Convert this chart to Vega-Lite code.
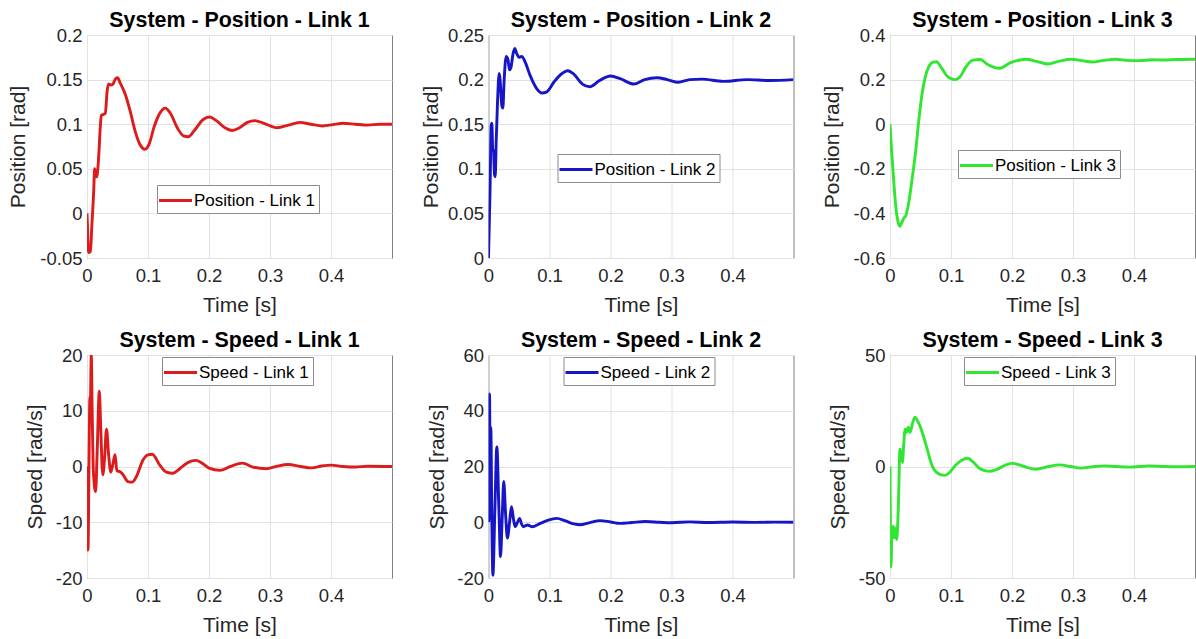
{
  "$schema": "https://vega.github.io/schema/vega-lite/v6.json",
  "background": "white",
  "padding": {"left": 7, "top": 9, "right": 0, "bottom": 0},
  "columns": 3,
  "spacing": {"column": 96.5, "row": 97},
  "bounds": "flush",
  "resolve": {"scale": {"x": "independent", "y": "independent", "color": "independent"}, "legend": {"color": "independent"}, "axis": {"x": "independent", "y": "independent"}},
  "config": {
    "view": {"stroke": "#808080", "strokeWidth": 1},
    "axis": {"labelFont": "Liberation Sans", "labelFontSize": 18.5, "labelColor": "#262626", "titleFont": "Liberation Sans", "titleFontSize": 21, "titleFontWeight": "normal", "titleColor": "#262626", "gridColor": "#e2e2e2", "gridOpacity": 1, "domain": false, "ticks": false, "labelOverlap": false, "labelFlush": false},
    "axisX": {"labelPadding": 8, "titlePadding": 10},
    "axisY": {"labelPadding": 5},
    "title": {"font": "Liberation Sans", "fontSize": 21.4, "fontWeight": "bold", "color": "#000000", "offset": -5, "baseline": "bottom", "anchor": "middle", "frame": "group"},
    "legend": {"orient": "none", "title": null, "symbolType": "M-1.65,0H1.65", "symbolSize": 400, "symbolStrokeWidth": 3, "symbolOffset": 3, "labelOffset": 7, "labelFont": "Liberation Sans", "labelFontSize": 17, "labelColor": "#000000", "fillColor": "#ffffff", "strokeColor": "#8c8c8c", "padding": 4, "cornerRadius": 0}
  },
  "datasets": {
    "p1": [
      {"t":0,"v":0,"s":"Position - Link 1"},{"t":0.0008,"v":-0.015,"s":"Position - Link 1"},{"t":0.0025,"v":-0.044,"s":"Position - Link 1"},{"t":0.0055,"v":-0.043,"s":"Position - Link 1"},{"t":0.008,"v":-0.013,"s":"Position - Link 1"},{"t":0.011,"v":0.025,"s":"Position - Link 1"},{"t":0.0125,"v":0.05,"s":"Position - Link 1"},{"t":0.014,"v":0.043,"s":"Position - Link 1"},{"t":0.016,"v":0.041,"s":"Position - Link 1"},{"t":0.019,"v":0.062,"s":"Position - Link 1"},{"t":0.022,"v":0.099,"s":"Position - Link 1"},{"t":0.0235,"v":0.11,"s":"Position - Link 1"},{"t":0.027,"v":0.111,"s":"Position - Link 1"},{"t":0.03,"v":0.112,"s":"Position - Link 1"},{"t":0.033,"v":0.137,"s":"Position - Link 1"},{"t":0.0355,"v":0.145,"s":"Position - Link 1"},{"t":0.039,"v":0.144,"s":"Position - Link 1"},{"t":0.0425,"v":0.145,"s":"Position - Link 1"},{"t":0.046,"v":0.15,"s":"Position - Link 1"},{"t":0.05,"v":0.152,"s":"Position - Link 1"},{"t":0.0545,"v":0.146,"s":"Position - Link 1"},{"t":0.063,"v":0.133,"s":"Position - Link 1"},{"t":0.071,"v":0.114,"s":"Position - Link 1"},{"t":0.079,"v":0.092,"s":"Position - Link 1"},{"t":0.087,"v":0.077,"s":"Position - Link 1"},{"t":0.095,"v":0.072,"s":"Position - Link 1"},{"t":0.102,"v":0.078,"s":"Position - Link 1"},{"t":0.11,"v":0.097,"s":"Position - Link 1"},{"t":0.12,"v":0.113,"s":"Position - Link 1"},{"t":0.128,"v":0.118,"s":"Position - Link 1"},{"t":0.137,"v":0.112,"s":"Position - Link 1"},{"t":0.148,"v":0.096,"s":"Position - Link 1"},{"t":0.158,"v":0.087,"s":"Position - Link 1"},{"t":0.166,"v":0.086,"s":"Position - Link 1"},{"t":0.176,"v":0.093,"s":"Position - Link 1"},{"t":0.19,"v":0.105,"s":"Position - Link 1"},{"t":0.201,"v":0.108,"s":"Position - Link 1"},{"t":0.212,"v":0.104,"s":"Position - Link 1"},{"t":0.226,"v":0.096,"s":"Position - Link 1"},{"t":0.238,"v":0.093,"s":"Position - Link 1"},{"t":0.25,"v":0.096,"s":"Position - Link 1"},{"t":0.263,"v":0.102,"s":"Position - Link 1"},{"t":0.275,"v":0.104,"s":"Position - Link 1"},{"t":0.29,"v":0.101,"s":"Position - Link 1"},{"t":0.312,"v":0.096,"s":"Position - Link 1"},{"t":0.33,"v":0.099,"s":"Position - Link 1"},{"t":0.349,"v":0.102,"s":"Position - Link 1"},{"t":0.367,"v":0.1,"s":"Position - Link 1"},{"t":0.386,"v":0.098,"s":"Position - Link 1"},{"t":0.403,"v":0.0995,"s":"Position - Link 1"},{"t":0.42,"v":0.101,"s":"Position - Link 1"},{"t":0.44,"v":0.1,"s":"Position - Link 1"},{"t":0.46,"v":0.099,"s":"Position - Link 1"},{"t":0.48,"v":0.1,"s":"Position - Link 1"},{"t":0.5,"v":0.1,"s":"Position - Link 1"}
    ],
    "p2": [
      {"t":0,"v":0,"s":"Position - Link 2"},{"t":0.001,"v":0.03,"s":"Position - Link 2"},{"t":0.0027,"v":0.082,"s":"Position - Link 2"},{"t":0.0044,"v":0.149,"s":"Position - Link 2"},{"t":0.0055,"v":0.151,"s":"Position - Link 2"},{"t":0.007,"v":0.12,"s":"Position - Link 2"},{"t":0.008,"v":0.121,"s":"Position - Link 2"},{"t":0.01,"v":0.093,"s":"Position - Link 2"},{"t":0.011,"v":0.091,"s":"Position - Link 2"},{"t":0.0126,"v":0.131,"s":"Position - Link 2"},{"t":0.0148,"v":0.175,"s":"Position - Link 2"},{"t":0.0175,"v":0.207,"s":"Position - Link 2"},{"t":0.019,"v":0.2,"s":"Position - Link 2"},{"t":0.022,"v":0.17,"s":"Position - Link 2"},{"t":0.0235,"v":0.168,"s":"Position - Link 2"},{"t":0.0257,"v":0.2,"s":"Position - Link 2"},{"t":0.029,"v":0.226,"s":"Position - Link 2"},{"t":0.032,"v":0.222,"s":"Position - Link 2"},{"t":0.0344,"v":0.211,"s":"Position - Link 2"},{"t":0.0366,"v":0.213,"s":"Position - Link 2"},{"t":0.04,"v":0.228,"s":"Position - Link 2"},{"t":0.043,"v":0.235,"s":"Position - Link 2"},{"t":0.0464,"v":0.229,"s":"Position - Link 2"},{"t":0.05,"v":0.225,"s":"Position - Link 2"},{"t":0.0546,"v":0.226,"s":"Position - Link 2"},{"t":0.06,"v":0.22,"s":"Position - Link 2"},{"t":0.068,"v":0.205,"s":"Position - Link 2"},{"t":0.079,"v":0.19,"s":"Position - Link 2"},{"t":0.088,"v":0.185,"s":"Position - Link 2"},{"t":0.095,"v":0.186,"s":"Position - Link 2"},{"t":0.107,"v":0.197,"s":"Position - Link 2"},{"t":0.119,"v":0.206,"s":"Position - Link 2"},{"t":0.13,"v":0.21,"s":"Position - Link 2"},{"t":0.14,"v":0.206,"s":"Position - Link 2"},{"t":0.154,"v":0.195,"s":"Position - Link 2"},{"t":0.166,"v":0.192,"s":"Position - Link 2"},{"t":0.182,"v":0.199,"s":"Position - Link 2"},{"t":0.2,"v":0.204,"s":"Position - Link 2"},{"t":0.216,"v":0.201,"s":"Position - Link 2"},{"t":0.238,"v":0.195,"s":"Position - Link 2"},{"t":0.256,"v":0.2,"s":"Position - Link 2"},{"t":0.276,"v":0.202,"s":"Position - Link 2"},{"t":0.293,"v":0.2,"s":"Position - Link 2"},{"t":0.311,"v":0.197,"s":"Position - Link 2"},{"t":0.33,"v":0.2,"s":"Position - Link 2"},{"t":0.35,"v":0.2005,"s":"Position - Link 2"},{"t":0.385,"v":0.198,"s":"Position - Link 2"},{"t":0.424,"v":0.2,"s":"Position - Link 2"},{"t":0.46,"v":0.199,"s":"Position - Link 2"},{"t":0.5,"v":0.2,"s":"Position - Link 2"}
    ],
    "p3": [
      {"t":0,"v":0,"s":"Position - Link 3"},{"t":0.002,"v":-0.093,"s":"Position - Link 3"},{"t":0.0054,"v":-0.227,"s":"Position - Link 3"},{"t":0.0092,"v":-0.361,"s":"Position - Link 3"},{"t":0.013,"v":-0.436,"s":"Position - Link 3"},{"t":0.0163,"v":-0.458,"s":"Position - Link 3"},{"t":0.019,"v":-0.443,"s":"Position - Link 3"},{"t":0.0228,"v":-0.421,"s":"Position - Link 3"},{"t":0.026,"v":-0.409,"s":"Position - Link 3"},{"t":0.031,"v":-0.347,"s":"Position - Link 3"},{"t":0.0364,"v":-0.242,"s":"Position - Link 3"},{"t":0.042,"v":-0.123,"s":"Position - Link 3"},{"t":0.047,"v":0.012,"s":"Position - Link 3"},{"t":0.0527,"v":0.139,"s":"Position - Link 3"},{"t":0.058,"v":0.213,"s":"Position - Link 3"},{"t":0.0636,"v":0.258,"s":"Position - Link 3"},{"t":0.0707,"v":0.278,"s":"Position - Link 3"},{"t":0.076,"v":0.28,"s":"Position - Link 3"},{"t":0.085,"v":0.25,"s":"Position - Link 3"},{"t":0.094,"v":0.215,"s":"Position - Link 3"},{"t":0.106,"v":0.2,"s":"Position - Link 3"},{"t":0.114,"v":0.21,"s":"Position - Link 3"},{"t":0.124,"v":0.255,"s":"Position - Link 3"},{"t":0.135,"v":0.286,"s":"Position - Link 3"},{"t":0.148,"v":0.29,"s":"Position - Link 3"},{"t":0.16,"v":0.268,"s":"Position - Link 3"},{"t":0.18,"v":0.251,"s":"Position - Link 3"},{"t":0.197,"v":0.275,"s":"Position - Link 3"},{"t":0.213,"v":0.288,"s":"Position - Link 3"},{"t":0.223,"v":0.291,"s":"Position - Link 3"},{"t":0.24,"v":0.282,"s":"Position - Link 3"},{"t":0.258,"v":0.27,"s":"Position - Link 3"},{"t":0.278,"v":0.283,"s":"Position - Link 3"},{"t":0.297,"v":0.291,"s":"Position - Link 3"},{"t":0.315,"v":0.285,"s":"Position - Link 3"},{"t":0.332,"v":0.279,"s":"Position - Link 3"},{"t":0.35,"v":0.286,"s":"Position - Link 3"},{"t":0.37,"v":0.291,"s":"Position - Link 3"},{"t":0.39,"v":0.286,"s":"Position - Link 3"},{"t":0.409,"v":0.285,"s":"Position - Link 3"},{"t":0.43,"v":0.289,"s":"Position - Link 3"},{"t":0.447,"v":0.288,"s":"Position - Link 3"},{"t":0.47,"v":0.29,"s":"Position - Link 3"},{"t":0.5,"v":0.291,"s":"Position - Link 3"}
    ],
    "p4": [
      {"t":0,"v":0,"s":"Speed - Link 1"},{"t":0.0004,"v":-6.3,"s":"Speed - Link 1"},{"t":0.0016,"v":-15,"s":"Speed - Link 1"},{"t":0.003,"v":-3,"s":"Speed - Link 1"},{"t":0.0042,"v":10,"s":"Speed - Link 1"},{"t":0.0048,"v":12.5,"s":"Speed - Link 1"},{"t":0.0055,"v":11,"s":"Speed - Link 1"},{"t":0.007,"v":20,"s":"Speed - Link 1"},{"t":0.0085,"v":10,"s":"Speed - Link 1"},{"t":0.0105,"v":-1,"s":"Speed - Link 1"},{"t":0.0142,"v":-4.5,"s":"Speed - Link 1"},{"t":0.0165,"v":2,"s":"Speed - Link 1"},{"t":0.0202,"v":13.5,"s":"Speed - Link 1"},{"t":0.0225,"v":7,"s":"Speed - Link 1"},{"t":0.0258,"v":-1.5,"s":"Speed - Link 1"},{"t":0.0285,"v":1,"s":"Speed - Link 1"},{"t":0.032,"v":6.7,"s":"Speed - Link 1"},{"t":0.0355,"v":2,"s":"Speed - Link 1"},{"t":0.039,"v":-1,"s":"Speed - Link 1"},{"t":0.042,"v":0.2,"s":"Speed - Link 1"},{"t":0.046,"v":2.1,"s":"Speed - Link 1"},{"t":0.049,"v":-0.8,"s":"Speed - Link 1"},{"t":0.054,"v":-0.9,"s":"Speed - Link 1"},{"t":0.058,"v":-1.3,"s":"Speed - Link 1"},{"t":0.067,"v":-2.7,"s":"Speed - Link 1"},{"t":0.074,"v":-2.8,"s":"Speed - Link 1"},{"t":0.081,"v":-1.8,"s":"Speed - Link 1"},{"t":0.092,"v":1.2,"s":"Speed - Link 1"},{"t":0.1,"v":2.1,"s":"Speed - Link 1"},{"t":0.107,"v":2.2,"s":"Speed - Link 1"},{"t":0.119,"v":0.3,"s":"Speed - Link 1"},{"t":0.13,"v":-1,"s":"Speed - Link 1"},{"t":0.141,"v":-1.2,"s":"Speed - Link 1"},{"t":0.152,"v":-0.4,"s":"Speed - Link 1"},{"t":0.165,"v":0.7,"s":"Speed - Link 1"},{"t":0.179,"v":1.1,"s":"Speed - Link 1"},{"t":0.19,"v":0.5,"s":"Speed - Link 1"},{"t":0.2,"v":-0.3,"s":"Speed - Link 1"},{"t":0.218,"v":-0.7,"s":"Speed - Link 1"},{"t":0.235,"v":0,"s":"Speed - Link 1"},{"t":0.255,"v":0.6,"s":"Speed - Link 1"},{"t":0.272,"v":-0.1,"s":"Speed - Link 1"},{"t":0.294,"v":-0.4,"s":"Speed - Link 1"},{"t":0.31,"v":0,"s":"Speed - Link 1"},{"t":0.33,"v":0.35,"s":"Speed - Link 1"},{"t":0.35,"v":0,"s":"Speed - Link 1"},{"t":0.368,"v":-0.25,"s":"Speed - Link 1"},{"t":0.385,"v":0.1,"s":"Speed - Link 1"},{"t":0.4,"v":0.25,"s":"Speed - Link 1"},{"t":0.42,"v":0,"s":"Speed - Link 1"},{"t":0.44,"v":-0.1,"s":"Speed - Link 1"},{"t":0.46,"v":0.05,"s":"Speed - Link 1"},{"t":0.5,"v":0,"s":"Speed - Link 1"}
    ],
    "p5": [
      {"t":0,"v":0,"s":"Speed - Link 2"},{"t":0.0004,"v":7,"s":"Speed - Link 2"},{"t":0.0008,"v":0.5,"s":"Speed - Link 2"},{"t":0.0017,"v":46,"s":"Speed - Link 2"},{"t":0.0027,"v":15,"s":"Speed - Link 2"},{"t":0.0038,"v":34,"s":"Speed - Link 2"},{"t":0.0055,"v":0,"s":"Speed - Link 2"},{"t":0.0072,"v":-19,"s":"Speed - Link 2"},{"t":0.0105,"v":5,"s":"Speed - Link 2"},{"t":0.0137,"v":27,"s":"Speed - Link 2"},{"t":0.017,"v":5,"s":"Speed - Link 2"},{"t":0.0197,"v":-12.3,"s":"Speed - Link 2"},{"t":0.0225,"v":2,"s":"Speed - Link 2"},{"t":0.025,"v":14.6,"s":"Speed - Link 2"},{"t":0.028,"v":3,"s":"Speed - Link 2"},{"t":0.031,"v":-5.7,"s":"Speed - Link 2"},{"t":0.0345,"v":0,"s":"Speed - Link 2"},{"t":0.0377,"v":5.6,"s":"Speed - Link 2"},{"t":0.041,"v":1,"s":"Speed - Link 2"},{"t":0.0437,"v":-1.6,"s":"Speed - Link 2"},{"t":0.0475,"v":0,"s":"Speed - Link 2"},{"t":0.051,"v":1.4,"s":"Speed - Link 2"},{"t":0.054,"v":-0.5,"s":"Speed - Link 2"},{"t":0.057,"v":-1.6,"s":"Speed - Link 2"},{"t":0.064,"v":-1,"s":"Speed - Link 2"},{"t":0.071,"v":-1.6,"s":"Speed - Link 2"},{"t":0.085,"v":-0.4,"s":"Speed - Link 2"},{"t":0.098,"v":0.8,"s":"Speed - Link 2"},{"t":0.112,"v":1.4,"s":"Speed - Link 2"},{"t":0.125,"v":0.6,"s":"Speed - Link 2"},{"t":0.14,"v":-0.6,"s":"Speed - Link 2"},{"t":0.15,"v":-0.9,"s":"Speed - Link 2"},{"t":0.165,"v":-0.2,"s":"Speed - Link 2"},{"t":0.183,"v":0.6,"s":"Speed - Link 2"},{"t":0.2,"v":0.1,"s":"Speed - Link 2"},{"t":0.216,"v":-0.4,"s":"Speed - Link 2"},{"t":0.235,"v":-0.1,"s":"Speed - Link 2"},{"t":0.257,"v":0.25,"s":"Speed - Link 2"},{"t":0.28,"v":0,"s":"Speed - Link 2"},{"t":0.3,"v":-0.2,"s":"Speed - Link 2"},{"t":0.33,"v":0.15,"s":"Speed - Link 2"},{"t":0.36,"v":-0.1,"s":"Speed - Link 2"},{"t":0.4,"v":0.1,"s":"Speed - Link 2"},{"t":0.44,"v":-0.05,"s":"Speed - Link 2"},{"t":0.47,"v":0.05,"s":"Speed - Link 2"},{"t":0.5,"v":0,"s":"Speed - Link 2"}
    ],
    "p6": [
      {"t":0,"v":0,"s":"Speed - Link 3"},{"t":0.0005,"v":-20.8,"s":"Speed - Link 3"},{"t":0.001,"v":-35,"s":"Speed - Link 3"},{"t":0.0016,"v":-45,"s":"Speed - Link 3"},{"t":0.0033,"v":-29.8,"s":"Speed - Link 3"},{"t":0.0055,"v":-26.8,"s":"Speed - Link 3"},{"t":0.0071,"v":-32,"s":"Speed - Link 3"},{"t":0.0087,"v":-27.5,"s":"Speed - Link 3"},{"t":0.011,"v":-32.8,"s":"Speed - Link 3"},{"t":0.0137,"v":-17.7,"s":"Speed - Link 3"},{"t":0.0164,"v":7.8,"s":"Speed - Link 3"},{"t":0.0186,"v":4.8,"s":"Speed - Link 3"},{"t":0.0208,"v":1.8,"s":"Speed - Link 3"},{"t":0.022,"v":7.8,"s":"Speed - Link 3"},{"t":0.025,"v":16.8,"s":"Speed - Link 3"},{"t":0.0273,"v":15.3,"s":"Speed - Link 3"},{"t":0.03,"v":17.6,"s":"Speed - Link 3"},{"t":0.0328,"v":15.3,"s":"Speed - Link 3"},{"t":0.0366,"v":19.1,"s":"Speed - Link 3"},{"t":0.041,"v":22.1,"s":"Speed - Link 3"},{"t":0.0448,"v":20.6,"s":"Speed - Link 3"},{"t":0.049,"v":18.3,"s":"Speed - Link 3"},{"t":0.0546,"v":13.8,"s":"Speed - Link 3"},{"t":0.061,"v":7.8,"s":"Speed - Link 3"},{"t":0.068,"v":1.1,"s":"Speed - Link 3"},{"t":0.0765,"v":-2.7,"s":"Speed - Link 3"},{"t":0.089,"v":-4,"s":"Speed - Link 3"},{"t":0.0956,"v":-3.2,"s":"Speed - Link 3"},{"t":0.1066,"v":0.3,"s":"Speed - Link 3"},{"t":0.1175,"v":2.8,"s":"Speed - Link 3"},{"t":0.127,"v":3.7,"s":"Speed - Link 3"},{"t":0.137,"v":1.8,"s":"Speed - Link 3"},{"t":0.1475,"v":-1,"s":"Speed - Link 3"},{"t":0.163,"v":-2.2,"s":"Speed - Link 3"},{"t":0.175,"v":-1.3,"s":"Speed - Link 3"},{"t":0.191,"v":0.8,"s":"Speed - Link 3"},{"t":0.201,"v":1.4,"s":"Speed - Link 3"},{"t":0.22,"v":0,"s":"Speed - Link 3"},{"t":0.239,"v":-1.2,"s":"Speed - Link 3"},{"t":0.258,"v":-0.1,"s":"Speed - Link 3"},{"t":0.278,"v":0.75,"s":"Speed - Link 3"},{"t":0.296,"v":0,"s":"Speed - Link 3"},{"t":0.313,"v":-0.75,"s":"Speed - Link 3"},{"t":0.332,"v":-0.1,"s":"Speed - Link 3"},{"t":0.351,"v":0.3,"s":"Speed - Link 3"},{"t":0.37,"v":0,"s":"Speed - Link 3"},{"t":0.392,"v":-0.3,"s":"Speed - Link 3"},{"t":0.41,"v":0,"s":"Speed - Link 3"},{"t":0.425,"v":0.3,"s":"Speed - Link 3"},{"t":0.45,"v":0,"s":"Speed - Link 3"},{"t":0.47,"v":-0.1,"s":"Speed - Link 3"},{"t":0.5,"v":0,"s":"Speed - Link 3"}
    ]
  },
  "concat": [
    {
      "width": 305, "height": 223,
      "data": {"name": "p1"},
      "title": "System - Position - Link 1",
      "mark": {"type": "line", "strokeWidth": 2.9, "interpolate": "monotone", "clip": true},
      "encoding": {
        "x": {"field": "t", "type": "quantitative", "scale": {"domain": [0, 0.5], "nice": false, "zero": false}, "axis": {"title": "Time [s]", "values": [0, 0.1, 0.2, 0.3, 0.4], "labelExpr": "toString(datum.value)"}},
        "y": {"field": "v", "type": "quantitative", "scale": {"domain": [-0.05, 0.2], "nice": false, "zero": false}, "axis": {"title": "Position [rad]", "values": [-0.05, 0, 0.05, 0.1, 0.15, 0.2], "labelExpr": "toString(datum.value)", "titlePadding": 11}},
        "color": {"field": "s", "type": "nominal", "scale": {"range": ["#dc1c1c"]}, "legend": {"legendX": 70, "legendY": 150}}
      }
    },
    {
      "width": 305, "height": 223,
      "data": {"name": "p2"},
      "title": "System - Position - Link 2",
      "mark": {"type": "line", "strokeWidth": 2.9, "interpolate": "monotone", "clip": true},
      "encoding": {
        "x": {"field": "t", "type": "quantitative", "scale": {"domain": [0, 0.5], "nice": false, "zero": false}, "axis": {"title": "Time [s]", "values": [0, 0.1, 0.2, 0.3, 0.4], "labelExpr": "toString(datum.value)"}},
        "y": {"field": "v", "type": "quantitative", "scale": {"domain": [0, 0.25], "nice": false, "zero": false}, "axis": {"title": "Position [rad]", "values": [0, 0.05, 0.1, 0.15, 0.2, 0.25], "labelExpr": "toString(datum.value)", "titlePadding": 6}},
        "color": {"field": "s", "type": "nominal", "scale": {"range": ["#1616c8"]}, "legend": {"legendX": 69, "legendY": 119}}
      }
    },
    {
      "width": 305, "height": 223,
      "data": {"name": "p3"},
      "title": "System - Position - Link 3",
      "mark": {"type": "line", "strokeWidth": 2.9, "interpolate": "monotone", "clip": true},
      "encoding": {
        "x": {"field": "t", "type": "quantitative", "scale": {"domain": [0, 0.5], "nice": false, "zero": false}, "axis": {"title": "Time [s]", "values": [0, 0.1, 0.2, 0.3, 0.4], "labelExpr": "toString(datum.value)"}},
        "y": {"field": "v", "type": "quantitative", "scale": {"domain": [-0.6, 0.4], "nice": false, "zero": false}, "axis": {"title": "Position [rad]", "values": [-0.6, -0.4, -0.2, 0, 0.2, 0.4], "labelExpr": "toString(datum.value)", "titlePadding": 11}},
        "color": {"field": "s", "type": "nominal", "scale": {"range": ["#30e630"]}, "legend": {"legendX": 68, "legendY": 115}}
      }
    },
    {
      "width": 305, "height": 223,
      "data": {"name": "p4"},
      "title": "System - Speed - Link 1",
      "mark": {"type": "line", "strokeWidth": 2.9, "interpolate": "monotone", "clip": true},
      "encoding": {
        "x": {"field": "t", "type": "quantitative", "scale": {"domain": [0, 0.5], "nice": false, "zero": false}, "axis": {"title": "Time [s]", "values": [0, 0.1, 0.2, 0.3, 0.4], "labelExpr": "toString(datum.value)"}},
        "y": {"field": "v", "type": "quantitative", "scale": {"domain": [-20, 20], "nice": false, "zero": false}, "axis": {"title": "Speed [rad/s]", "values": [-20, -10, 0, 10, 20], "labelExpr": "toString(datum.value)", "titlePadding": 10}},
        "color": {"field": "s", "type": "nominal", "scale": {"range": ["#dc1c1c"]}, "legend": {"legendX": 75, "legendY": 2}}
      }
    },
    {
      "width": 305, "height": 223,
      "data": {"name": "p5"},
      "title": "System - Speed - Link 2",
      "mark": {"type": "line", "strokeWidth": 2.9, "interpolate": "monotone", "clip": true},
      "encoding": {
        "x": {"field": "t", "type": "quantitative", "scale": {"domain": [0, 0.5], "nice": false, "zero": false}, "axis": {"title": "Time [s]", "values": [0, 0.1, 0.2, 0.3, 0.4], "labelExpr": "toString(datum.value)"}},
        "y": {"field": "v", "type": "quantitative", "scale": {"domain": [-20, 60], "nice": false, "zero": false}, "axis": {"title": "Speed [rad/s]", "values": [-20, 0, 20, 40, 60], "labelExpr": "toString(datum.value)", "titlePadding": 9}},
        "color": {"field": "s", "type": "nominal", "scale": {"range": ["#1616c8"]}, "legend": {"legendX": 75, "legendY": 2}}
      }
    },
    {
      "width": 305, "height": 223,
      "data": {"name": "p6"},
      "title": "System - Speed - Link 3",
      "mark": {"type": "line", "strokeWidth": 2.9, "interpolate": "monotone", "clip": true},
      "encoding": {
        "x": {"field": "t", "type": "quantitative", "scale": {"domain": [0, 0.5], "nice": false, "zero": false}, "axis": {"title": "Time [s]", "values": [0, 0.1, 0.2, 0.3, 0.4], "labelExpr": "toString(datum.value)"}},
        "y": {"field": "v", "type": "quantitative", "scale": {"domain": [-50, 50], "nice": false, "zero": false}, "axis": {"title": "Speed [rad/s]", "values": [-50, 0, 50], "labelExpr": "toString(datum.value)", "titlePadding": 10}},
        "color": {"field": "s", "type": "nominal", "scale": {"range": ["#30e630"]}, "legend": {"legendX": 74, "legendY": 2}}
      }
    }
  ]
}
